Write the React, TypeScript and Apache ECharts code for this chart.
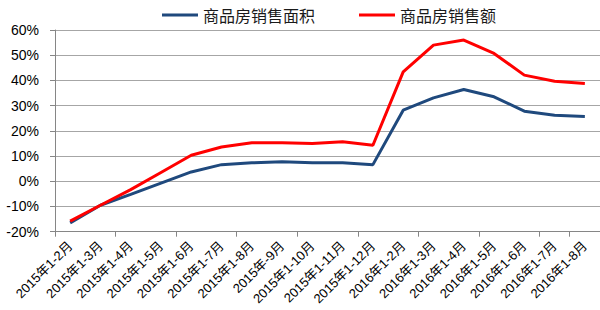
import React, { useEffect, useRef } from "react";
import * as echarts from "echarts";

const categories = [
  "2015年1-2月", "2015年1-3月", "2015年1-4月", "2015年1-5月", "2015年1-6月",
  "2015年1-7月", "2015年1-8月", "2015年-9月", "2015年1-10月", "2015年1-11月",
  "2015年1-12月", "2016年1-2月", "2016年1-3月", "2016年1-4月", "2016年1-5月",
  "2016年1-6月", "2016年1-7月", "2016年1-8月",
];
const areaName = "商品房销售面积";
const amountName = "商品房销售额";
const areaValues = [-16.5, -9.5, -5.2, -0.7, 3.7, 6.6, 7.3, 7.7, 7.3, 7.3, 6.6, 28.2, 33.1, 36.4, 33.5, 27.8, 26.2, 25.7];
const amountValues = [-15.8, -9.5, -3.3, 3.5, 10.3, 13.6, 15.3, 15.3, 15.0, 15.7, 14.3, 43.4, 54.0, 56.0, 50.7, 42.1, 39.7, 38.8];

const FONT = "'Liberation Sans', 'Noto Sans CJK SC', sans-serif";

export default function App() {
  const ref = useRef<HTMLDivElement>(null);
  useEffect(() => {
    if (!ref.current) return;
    const chart = echarts.init(ref.current, undefined, { renderer: "svg" });
    chart.setOption({
      animation: false,
      backgroundColor: "#ffffff",
      legend: {
        top: 2,
        left: 157,
        itemWidth: 36,
        itemHeight: 3,
        itemGap: 44,
        icon: "rect",
        textStyle: { fontSize: 16, color: "#1a1a1a", fontFamily: "'Noto Sans CJK SC', sans-serif" },
        data: [areaName, amountName],
      },
      grid: { left: 55, right: -13, top: 30, bottom: 78.3, containLabel: false },
      xAxis: {
        type: "category",
        data: categories,
        boundaryGap: true,
        axisLine: { onZero: false, lineStyle: { color: "#868686", width: 1 } },
        axisTick: { show: true, interval: 1, length: 5, lineStyle: { color: "#868686" } },
        axisLabel: {
          interval: 0,
          rotate: 45,
          fontSize: 13,
          color: "#000",
          margin: 12,
          fontFamily: FONT,
        },
      },
      yAxis: {
        type: "value",
        min: -20,
        max: 60,
        interval: 10,
        axisLine: { show: true, lineStyle: { color: "#868686", width: 1 } },
        axisTick: { show: true, length: 5, lineStyle: { color: "#868686" } },
        axisLabel: { formatter: "{value}%", fontSize: 14, color: "#000", margin: 16, fontFamily: FONT },
        splitLine: { show: true, lineStyle: { color: "#a6a6a6", width: 1 } },
      },
      series: [
        {
          name: areaName,
          type: "line",
          data: areaValues,
          symbol: "none",
          lineStyle: { color: "#1F497D", width: 3 },
          itemStyle: { color: "#1F497D" },
        },
        {
          name: amountName,
          type: "line",
          data: amountValues,
          symbol: "none",
          lineStyle: { color: "#FF0000", width: 3 },
          itemStyle: { color: "#FF0000" },
        },
      ],
    });
    return () => chart.dispose();
  }, []);
  return <div ref={ref} style={{ width: 600, height: 310, position: "absolute", left: 0, top: 0 }} />;
}
